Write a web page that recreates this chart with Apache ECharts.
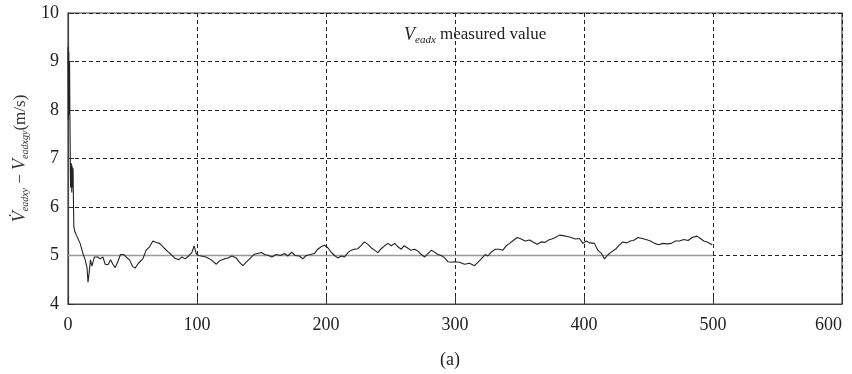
<!DOCTYPE html>
<html>
<head>
<meta charset="utf-8">
<script src="https://cdn.jsdelivr.net/npm/echarts@6/dist/echarts.min.js"></script>
<style>
  html, body { margin: 0; padding: 0; background: #fff; }
  #chart { width: 852px; height: 374px; }
</style>
</head>
<body>
<div id="chart"></div>
<script>
// 时间步 (横轴)
var steps = [
  0, 0.3, 0.6, 0.9, 1.2, 1.5, 2.0, 2.6, 2.9, 3.2, 3.5, 3.9, 4.5, 5.2, 6.5, 7.6, 9.4, 11.5, 13.3, 14.8,
  15.5, 16.3, 17.4, 18.5, 20.5, 23, 25, 27, 28.8, 31, 33, 35, 36.6, 38.6, 40.7, 43.3, 45, 47.7, 50.2, 52,
  54.6, 58, 60.6, 63.2, 65.8, 68.4, 71, 74.3, 77.4, 80, 82.6, 85.7, 88.3, 90.9, 93.5, 96, 97.8, 99.4, 101, 103.2,
  107, 111, 115, 117.5, 121, 124, 127, 130.4, 133, 135.5, 138, 140.8, 144, 147, 150, 152.4, 155.5, 158, 161.4, 164.7,
  167.8, 170.4, 173.5, 176, 179.4, 182, 184.6, 188, 191, 193.6, 196.2, 198.8, 201.4, 204, 206.6, 209.2, 211.8, 214.4, 217, 219.6,
  222, 224.7, 227.3, 229.8, 232.5, 235, 237.6, 240.2, 242.8, 245.4, 248, 250.6, 253.2, 255.8, 258.3, 260.4, 263, 265.6, 268.7, 271.3,
  273.9, 276.5, 279, 281.7, 284.2, 286.8, 289.4, 292, 294.6, 297.2, 299.8, 303.5, 307.4, 311.2, 315.1, 317.7, 320.3, 323.4, 325.5, 328.1,
  331.2, 334.5, 337.1, 339.7, 342.3, 345.6, 348.2, 351.3, 354.4, 357.8, 361.1, 363.7, 366.8, 369.9, 372.5, 375.1, 377.7, 381, 383.6, 387,
  390.1, 393.2, 396.5, 399.1, 401.7, 404.3, 408.1, 410.7, 413.3, 415.9, 418.4, 421, 424.9, 427.5, 430.1, 433.2, 435.8, 438.3, 441.9, 445,
  448.1, 451.5, 454.8, 458, 461.1, 464.5, 467.8, 470.9, 474, 477.3, 480.7, 483.8, 487.6, 490.2, 492.8, 495.4, 499.4
];

// 测量值 (m/s)
var values = [
  9.3, 7.8, 9.2, 7.9, 9.0, 7.8, 6.4, 6.9, 6.3, 6.85, 6.4, 6.8, 5.6, 5.5, 5.42, 5.39, 5.25, 5.05, 4.91, 4.74,
  4.45, 4.62, 4.91, 4.78, 4.97, 4.97, 4.93, 4.97, 4.82, 4.81, 4.91, 4.81, 4.75, 4.87, 5.02, 5.02, 4.97, 4.91, 4.77, 4.74,
  4.84, 4.93, 5.11, 5.18, 5.3, 5.27, 5.25, 5.16, 5.08, 5.02, 4.95, 4.91, 4.97, 4.93, 4.99, 5.06, 5.2, 5.04, 5.0, 4.99,
  4.97, 4.91, 4.82, 4.89, 4.93, 4.95, 4.99, 4.95, 4.86, 4.79, 4.86, 4.93, 5.02, 5.04, 5.06, 5.02, 5.0, 4.97, 5.02, 5.0,
  5.04, 4.99, 5.07, 5.0, 4.99, 4.93, 5.0, 5.02, 5.04, 5.13, 5.18, 5.21, 5.16, 5.07, 5.0, 4.95, 4.99, 4.97, 5.06, 5.11,
  5.13, 5.14, 5.21, 5.28, 5.23, 5.16, 5.11, 5.06, 5.14, 5.2, 5.25, 5.2, 5.25, 5.18, 5.13, 5.2, 5.16, 5.11, 5.13, 5.09,
  5.02, 4.97, 5.04, 5.11, 5.07, 5.02, 5.0, 4.95, 4.87, 4.86, 4.87, 4.86, 4.82, 4.84, 4.79, 4.86, 4.93, 5.02, 4.99, 5.07,
  5.13, 5.13, 5.11, 5.2, 5.25, 5.32, 5.37, 5.34, 5.3, 5.32, 5.27, 5.23, 5.28, 5.27, 5.32, 5.34, 5.37, 5.42, 5.41, 5.39,
  5.37, 5.34, 5.35, 5.25, 5.3, 5.26, 5.25, 5.11, 5.05, 4.93, 5.01, 5.07, 5.14, 5.22, 5.28, 5.26, 5.3, 5.31, 5.37, 5.35,
  5.33, 5.3, 5.25, 5.22, 5.25, 5.24, 5.25, 5.3, 5.3, 5.33, 5.31, 5.37, 5.4, 5.35, 5.3, 5.28, 5.22
];

// 参考线 V = 5, 0~500
var referenceLevel = 5;
var referenceSteps = [0, 500];

// 坐标轴刻度
var xTicks = [0, 100, 200, 300, 400, 500, 600];
var yTicks = [4, 5, 6, 7, 8, 9, 10];

var serif = 'Liberation Serif';

var option = {
    backgroundColor: '#fff',
    animation: false,
    grid: {
        left: 68, right: 10, top: 13, bottom: 70,
        outerBoundsMode: 'none',
        show: true,
        borderColor: '#444',
        borderWidth: 1.2
    },
    xAxis: {
        type: 'value',
        min: xTicks[0],
        max: xTicks[xTicks.length - 1],
        interval: 100,
        axisLine: { show: true, lineStyle: { color: '#444', width: 1.2 } },
        axisTick: { show: true, inside: true, length: 8, lineStyle: { color: '#333' } },
        axisLabel: { color: '#222', fontFamily: serif, fontSize: 18, margin: 12, alignMaxLabel: 'right' },
        splitLine: { show: true, lineStyle: { color: '#222', type: [4, 3], width: 1 } }
    },
    yAxis: {
        type: 'value',
        min: yTicks[0],
        max: yTicks[yTicks.length - 1],
        interval: 1,
        axisLine: { show: true, lineStyle: { color: '#444', width: 1.2 } },
        axisTick: { show: true, inside: true, length: 6, lineStyle: { color: '#333' } },
        axisLabel: { color: '#222', fontFamily: serif, fontSize: 18, margin: 9 },
        splitLine: { show: true, lineStyle: { color: '#222', type: [4, 3], width: 1 } },
        name: '{v|V\u0307}{s|eadxy}{m| \u2212 }{v|V}{s|eadxgy}{m|(m/s)}',
        nameLocation: 'middle',
        nameRotate: 90,
        nameGap: 32,
        nameTextStyle: {
            color: '#333',
            fontFamily: serif,
            rich: {
                v: { fontFamily: serif, fontStyle: 'italic', fontSize: 18, color: '#333' },
                s: { fontFamily: serif, fontStyle: 'italic', fontSize: 10, color: '#333', padding: [10, 0, 0, 0] },
                m: { fontFamily: serif, fontSize: 17, color: '#333' }
            }
        }
    },
    graphic: [
        {
            type: 'text',
            left: 404,
            top: 26,
            style: {
                text: '{v|V}{s|eadx}{m| measured value}',
                rich: {
                    v: { fontFamily: serif, fontStyle: 'italic', fontSize: 18, fill: '#222' },
                    s: { fontFamily: serif, fontStyle: 'italic', fontSize: 11, fill: '#222', padding: [10, 0, 0, 0] },
                    m: { fontFamily: serif, fontSize: 17, fill: '#222' }
                }
            }
        },
        {
            type: 'text',
            left: 440,
            top: 351,
            style: { text: '(a)', fontFamily: serif, fontSize: 18, fill: '#222' }
        }
    ],
    series: [
        {
            name: 'reference',
            type: 'line',
            data: referenceSteps.map(function (t) { return [t, referenceLevel]; }),
            showSymbol: false,
            lineStyle: { color: '#999', width: 1.5 },
            z: 2
        },
        {
            name: 'measured',
            type: 'line',
            data: steps.map(function (t, i) { return [t, values[i]]; }),
            showSymbol: false,
            lineStyle: { color: '#222', width: 1.1 },
            z: 3
        }
    ]
};

var chart = echarts.init(document.getElementById('chart'), null, { renderer: 'canvas' });
chart.setOption(option);
</script>
</body>
</html>
